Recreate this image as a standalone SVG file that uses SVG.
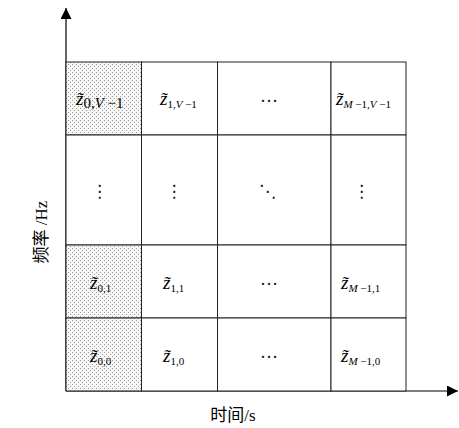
<svg xmlns="http://www.w3.org/2000/svg" width="459" height="428" viewBox="0 0 459 428">
<style>
.cell{stroke:#222;stroke-width:1}
.plain{fill:#fff}
.shade{fill:url(#dotp)}
.z{font-family:"Liberation Serif",serif;font-style:italic;font-size:19px;fill:#000}
.sb{font-size:11px;font-style:normal}
.sbl{font-size:15px;font-style:normal}
.i{font-style:italic}
.dots{font-family:"DejaVu Sans",sans-serif;font-size:17px;text-anchor:middle;fill:#111}
.hd{font-family:"Liberation Serif",serif;font-size:18px;text-anchor:middle;fill:#111}
.lbl{font-family:"Liberation Serif","Noto Sans CJK SC",sans-serif;font-size:17px;fill:#000}
.axis{stroke:#000;stroke-width:1.2;fill:none;marker-end:url(#arr)}
</style>
<defs>
<pattern id="dotp" width="4" height="4" patternUnits="userSpaceOnUse">
<rect width="4" height="4" fill="#f7f7f7"/>
<rect x="0" y="0" width="1" height="1" fill="#999"/>
<rect x="2" y="2" width="1" height="1" fill="#999"/>
</pattern>
<marker id="arr" markerUnits="userSpaceOnUse" markerWidth="12" markerHeight="11" refX="11" refY="5.5" orient="auto" viewBox="0 0 12 11">
<path d="M0,0 L11,5.5 L0,11 z" fill="#000"/>
</marker>
</defs>

<g id="connectors">
<line class="axis" x1="66" y1="391" x2="66" y2="8"/>
<line class="axis" x1="66" y1="391" x2="458" y2="391"/>
</g>

<g id="cell-0-V1">
<rect class="cell shade" x="66" y="62" width="75.5" height="73"/>
<text class="z" x="76" y="105">z̃<tspan class="sbl" dy="3">0,<tspan class="i">V</tspan> −1</tspan></text>
</g>
<g id="cell-1-V1">
<rect class="cell plain" x="141.5" y="62" width="76" height="73"/>
<text class="z" x="160" y="105">z̃<tspan class="sb" dy="3">1,<tspan class="i">V</tspan> −1</tspan></text>
</g>
<g id="cell-2-V1">
<rect class="cell plain" x="217.5" y="62" width="113.5" height="73"/>
<text class="hd" x="269" y="102">…</text>
</g>
<g id="cell-M1-V1">
<rect class="cell plain" x="331" y="62" width="75" height="73"/>
<text class="z" x="336" y="105">z̃<tspan class="sb" dy="3"><tspan class="i">M</tspan> −1,<tspan class="i">V</tspan> −1</tspan></text>
</g>

<g id="cell-0-v">
<rect class="cell plain" x="66" y="135" width="75.5" height="110"/>
<text class="dots" x="99.5" y="197">⋮</text>
</g>
<g id="cell-1-v">
<rect class="cell plain" x="141.5" y="135" width="76" height="110"/>
<text class="dots" x="174" y="197">⋮</text>
</g>
<g id="cell-2-v">
<rect class="cell plain" x="217.5" y="135" width="113.5" height="110"/>
<text class="dots" x="267.5" y="197">⋱</text>
</g>
<g id="cell-M1-v">
<rect class="cell plain" x="331" y="135" width="75" height="110"/>
<text class="dots" x="361.5" y="197">⋮</text>
</g>

<g id="cell-0-1">
<rect class="cell shade" x="66" y="245" width="75.5" height="73"/>
<text class="z" x="90" y="289">z̃<tspan class="sb" dy="3">0,1</tspan></text>
</g>
<g id="cell-1-1">
<rect class="cell plain" x="141.5" y="245" width="76" height="73"/>
<text class="z" x="163" y="289">z̃<tspan class="sb" dy="3">1,1</tspan></text>
</g>
<g id="cell-2-1">
<rect class="cell plain" x="217.5" y="245" width="113.5" height="73"/>
<text class="hd" x="269" y="285">…</text>
</g>
<g id="cell-M1-1">
<rect class="cell plain" x="331" y="245" width="75" height="73"/>
<text class="z" x="341" y="289">z̃<tspan class="sb" dy="3"><tspan class="i">M</tspan> −1,1</tspan></text>
</g>

<g id="cell-0-0">
<rect class="cell shade" x="66" y="318" width="75.5" height="73"/>
<text class="z" x="90" y="362">z̃<tspan class="sb" dy="3">0,0</tspan></text>
</g>
<g id="cell-1-0">
<rect class="cell plain" x="141.5" y="318" width="76" height="73"/>
<text class="z" x="163" y="362">z̃<tspan class="sb" dy="3">1,0</tspan></text>
</g>
<g id="cell-2-0">
<rect class="cell plain" x="217.5" y="318" width="113.5" height="73"/>
<text class="hd" x="269" y="358">…</text>
</g>
<g id="cell-M1-0">
<rect class="cell plain" x="331" y="318" width="75" height="73"/>
<text class="z" x="341" y="362">z̃<tspan class="sb" dy="3"><tspan class="i">M</tspan> −1,0</tspan></text>
</g>

<g id="y-label">
<text class="lbl" x="0" y="0" text-anchor="middle" transform="translate(47,232) rotate(-90)">频率 /Hz</text>
</g>
<g id="x-label">
<text class="lbl" x="233" y="421" text-anchor="middle">时间/s</text>
</g>
</svg>
